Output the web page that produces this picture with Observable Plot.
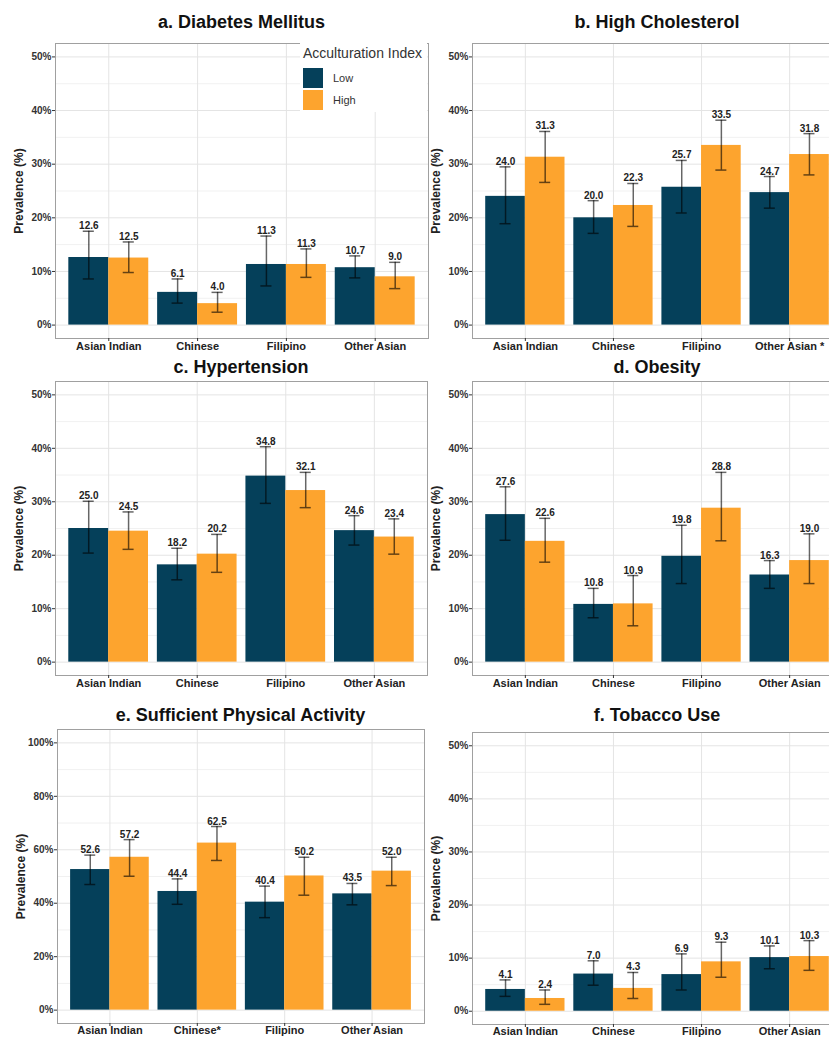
<!DOCTYPE html>
<html><head><meta charset="utf-8">
<script src="https://cdn.jsdelivr.net/npm/d3@7"></script>
<script src="https://cdn.jsdelivr.net/npm/@observablehq/plot@0.6"></script>
<style>
html,body{margin:0;padding:0;background:#fff;overflow:hidden;}
#root{position:relative;width:829px;height:1039px;overflow:hidden;font-family:"Liberation Sans",Arial,sans-serif;}
.title{position:absolute;transform:translate(-50%,-50%);font-size:18px;font-weight:bold;color:#111;white-space:nowrap;}
.panel{position:absolute;}
.panel svg{overflow:visible;max-width:none !important;}
.legend{position:absolute;left:300px;top:43px;width:127px;height:69px;background:#fff;}
.legend .lt{position:absolute;left:3px;top:2px;font-size:14px;color:#333;white-space:nowrap;}
.legend .sw{position:absolute;left:3px;width:20px;height:20px;}
.legend .ll{position:absolute;left:33px;font-size:11px;color:#333;transform:translateY(-50%);}
</style></head><body><div id="root"></div><script>
// ---- data ----
const categories = ["Asian Indian", "Chinese", "Filipino", "Other Asian"];
const groups = ["Low", "High"];
const groupColors = ["#05405A", "#FDA42E"];
const legendTitle = "Acculturation Index";
const yTicks50 = [0, 10, 20, 30, 40, 50];
const yMinor50 = [5, 15, 25, 35, 45];
const yTicks100 = [0, 20, 40, 60, 80, 100];
const yMinor100 = [10, 30, 50, 70, 90];

const titles = ["a. Diabetes Mellitus", "b. High Cholesterol", "c. Hypertension", "d. Obesity", "e. Sufficient Physical Activity", "f. Tobacco Use"];
const xLabelsA = ["Asian Indian", "Chinese", "Filipino", "Other Asian"];
const xLabelsB = ["Asian Indian", "Chinese", "Filipino", "Other Asian *"];
const xLabelsE = ["Asian Indian", "Chinese*", "Filipino", "Other Asian"];

const diabetesLow = [12.6, 6.1, 11.3, 10.7];
const diabetesHigh = [12.5, 4.0, 11.3, 9.0];
const diabetesLowCI = [[8.6, 17.5], [4.1, 8.6], [7.3, 16.6], [8.8, 12.9]];
const diabetesHighCI = [[9.8, 15.5], [2.4, 6.1], [8.9, 14.2], [6.8, 11.7]];

const cholLow = [24.0, 20.0, 25.7, 24.7];
const cholHigh = [31.3, 22.3, 33.5, 31.8];
const cholLowCI = [[18.9, 29.5], [17.1, 23.2], [20.9, 30.7], [21.8, 27.7]];
const cholHighCI = [[26.6, 36.1], [18.4, 26.4], [28.9, 38.2], [28.0, 35.7]];

const hyperLow = [25.0, 18.2, 34.8, 24.6];
const hyperHigh = [24.5, 20.2, 32.1, 23.4];
const hyperLowCI = [[20.4, 30.1], [15.4, 21.3], [29.7, 40.3], [21.9, 27.4]];
const hyperHighCI = [[21.1, 28.1], [16.8, 23.9], [28.9, 35.5], [20.2, 26.8]];

const obesityLow = [27.6, 10.8, 19.8, 16.3];
const obesityHigh = [22.6, 10.9, 28.8, 19.0];
const obesityLowCI = [[22.8, 32.8], [8.3, 13.8], [14.7, 25.6], [13.8, 19.0]];
const obesityHighCI = [[18.7, 26.9], [6.8, 16.2], [22.7, 35.5], [14.7, 24.0]];

const activityLow = [52.6, 44.4, 40.4, 43.5];
const activityHigh = [57.2, 62.5, 50.2, 52.0];
const activityLowCI = [[47.0, 58.0], [39.6, 49.1], [34.6, 46.4], [39.4, 47.4]];
const activityHighCI = [[50.1, 63.8], [56.0, 68.7], [43.0, 57.2], [46.6, 57.2]];

const tobaccoLow = [4.1, 7.0, 6.9, 10.1];
const tobaccoHigh = [2.4, 4.3, 9.3, 10.3];
const tobaccoLowCI = [[2.8, 5.9], [4.9, 9.5], [4.0, 10.8], [8.0, 12.3]];
const tobaccoHighCI = [[1.3, 4.0], [2.4, 7.3], [6.4, 13.0], [7.7, 13.3]];

// ---- layout ----
const root = document.getElementById("root");
const FONT = '"Liberation Sans", Arial, sans-serif';
const HALF = 0.45, CAP = 0.0625;

function makePanel(p) {
  const data = [];
  categories.forEach((c, i) => {
    data.push({i, group: "Low", value: p.low[i], lo: p.lowCI[i][0], hi: p.lowCI[i][1]});
    data.push({i, group: "High", value: p.high[i], lo: p.highCI[i][0], hi: p.highCI[i][1]});
  });
  const cx = d => d.i + (d.group === "Low" ? -HALF / 2 : HALF / 2);
  const mL = 55, mR = 1, mT = 5, mB = 22;
  const width = mL + (p.fr - p.fl) + mR;
  const height = mT + (p.fb - p.ft) + mB;
  const big = p.max === 100;
  const ticks = big ? yTicks100 : yTicks50;
  const minor = big ? yMinor100 : yMinor50;
  const pad = p.max * 0.05;
  const chart = Plot.plot({
    width, height, marginLeft: mL, marginRight: mR, marginTop: mT, marginBottom: mB,
    style: {fontFamily: FONT, background: "transparent", overflow: "visible", maxWidth: "none"},
    x: {domain: [-0.6, 3.6], axis: null},
    y: {domain: [-pad, p.max + pad], axis: null},
    color: {domain: groups, range: groupColors},
    marks: [
      Plot.gridY(minor, {stroke: "#f1f1f1", strokeOpacity: 1, strokeWidth: 1}),
      Plot.gridY(ticks, {stroke: "#e4e4e4", strokeOpacity: 1, strokeWidth: 1}),
      Plot.gridX([0, 1, 2, 3], {stroke: "#e4e4e4", strokeOpacity: 1, strokeWidth: 1}),
      Plot.rectY(data, {
        x1: d => d.i + (d.group === "Low" ? -HALF : 0),
        x2: d => d.i + (d.group === "Low" ? 0 : HALF),
        y1: 0, y2: "value", fill: "group"
      }),
      Plot.ruleX(data, {x: cx, y1: "lo", y2: "hi", stroke: "#000", strokeOpacity: 0.6, strokeWidth: 1.5}),
      Plot.ruleY(data, {y: "hi", x1: d => cx(d) - CAP, x2: d => cx(d) + CAP, stroke: "#000", strokeOpacity: 0.6, strokeWidth: 1.5}),
      Plot.ruleY(data, {y: "lo", x1: d => cx(d) - CAP, x2: d => cx(d) + CAP, stroke: "#000", strokeOpacity: 0.6, strokeWidth: 1.5}),
      Plot.text(data, {x: cx, y: "hi", text: d => d.value.toFixed(1), lineAnchor: "bottom", dy: -2,
        fontSize: 10, fontWeight: "bold", fill: "#222"}),
      Plot.frame({stroke: "#a0a0a0", strokeWidth: 1}),
      Plot.axisY(ticks, {tickFormat: d => d + "%", tickSize: 3, tickPadding: 1, fontSize: 10,
        fontWeight: "bold", fill: "#333", stroke: "#333", label: null}),
      Plot.axisY([], {tickSize: 0, label: "Prevalence (%)", labelAnchor: "center", labelOffset: 41, labelArrow: "none",
        fontSize: 12, fontWeight: "bold", fill: "#222"}),
      Plot.axisX([0, 1, 2, 3], {tickFormat: i => p.labels[i], tickSize: 3, tickPadding: p.tp ?? 1, fontSize: 11,
        fontWeight: "bold", fill: "#222", stroke: "#333", label: null})
    ]
  });
  const div = document.createElement("div");
  div.className = "panel";
  div.style.left = (p.fl - mL) + "px";
  div.style.top = (p.ft - mT) + "px";
  div.style.width = width + "px";
  div.style.height = height + "px";
  div.appendChild(chart);
  root.appendChild(div);
  const t = document.createElement("div");
  t.className = "title";
  t.textContent = p.title;
  t.style.left = ((p.fl + p.fr) / 2) + "px";
  t.style.top = p.ty + "px";
  root.appendChild(t);
}

makePanel({title: titles[0], labels: xLabelsA, low: diabetesLow, high: diabetesHigh, lowCI: diabetesLowCI, highCI: diabetesHighCI,
  max: 50, fl: 55, fr: 428, ft: 43, fb: 338, ty: 22});
makePanel({title: titles[1], labels: xLabelsB, low: cholLow, high: cholHigh, lowCI: cholLowCI, highCI: cholHighCI,
  max: 50, fl: 472, fr: 842, ft: 43, fb: 338, ty: 22});
makePanel({title: titles[2], labels: xLabelsA, low: hyperLow, high: hyperHigh, lowCI: hyperLowCI, highCI: hyperHighCI,
  max: 50, fl: 55, fr: 427, ft: 381, fb: 675, ty: 367});
makePanel({title: titles[3], labels: xLabelsA, low: obesityLow, high: obesityHigh, lowCI: obesityLowCI, highCI: obesityHighCI,
  max: 50, fl: 472, fr: 842, ft: 381, fb: 675, ty: 367});
makePanel({title: titles[4], labels: xLabelsE, low: activityLow, high: activityHigh, lowCI: activityLowCI, highCI: activityHighCI,
  max: 100, fl: 57, fr: 424, ft: 729, fb: 1023, ty: 715, tp: 0});
makePanel({title: titles[5], labels: xLabelsA, low: tobaccoLow, high: tobaccoHigh, lowCI: tobaccoLowCI, highCI: tobaccoHighCI,
  max: 50, fl: 472, fr: 842, ft: 732, fb: 1024, ty: 715, tp: 0});

// legend inside panel a
const lg = document.createElement("div");
lg.className = "legend";
lg.innerHTML = `<div class="lt">${legendTitle}</div>` +
  groups.map((g, k) => `<div class="sw" style="top:${24.7 + k * 22.3}px;background:${groupColors[k]}"></div>` +
    `<div class="ll" style="top:${34.7 + k * 22.3}px">${g}</div>`).join("");
root.appendChild(lg);
</script></body></html>
